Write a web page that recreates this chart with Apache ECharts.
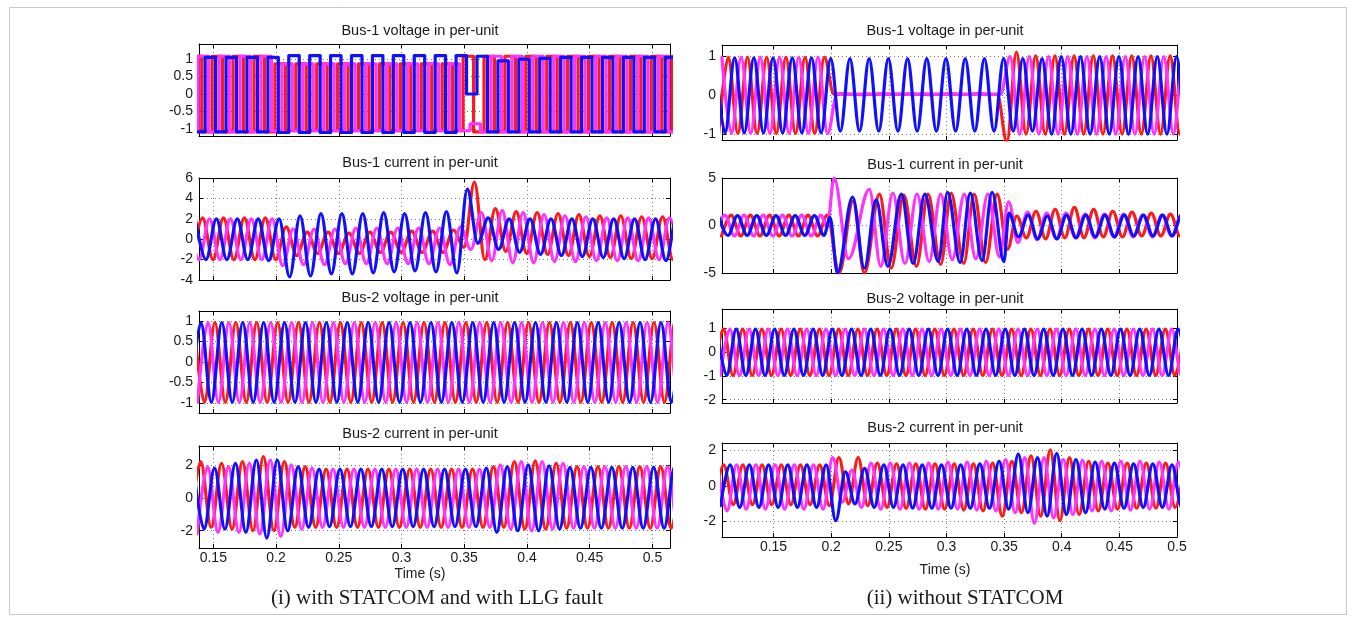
<!DOCTYPE html>
<html><head><meta charset="utf-8">
<script src="https://cdn.jsdelivr.net/npm/echarts@6/dist/echarts.min.js"></script>
<style>html,body{margin:0;padding:0;background:#fff}#c{width:1356px;height:621px}</style>
</head><body><div id="c"></div><script>
// ---------- data (extrema of each phase; 60 Hz -> half cycle H) ----------
const H = 1 / 120;
const xTickVals = [0.15, 0.2, 0.25, 0.3, 0.35, 0.4, 0.45, 0.5];
const titles = ['Bus-1 voltage in per-unit', 'Bus-1 current in per-unit', 'Bus-2 voltage in per-unit', 'Bus-2 current in per-unit'];
const captions = ['(i) with STATCOM and with LLG fault', '(ii) without STATCOM'];
const xName = 'Time (s)';

// ---- (i) with STATCOM ----
const L1_red = [{t0: 0.1366, dt: H, v: [1.08,-1.08,1.08,-1.08,1.08,-1.08,1.08,-1.08,
  0.86,-1.05,0.86,-1.05,0.86,-1.05,0.86,-1.05,0.86,-1.05,0.86,-1.05,0.86,-1.05,0.86,-1.05,0.86,-1.05,
  1.08,-1.08,1.08,-1.08,1.08,-1.08,1.08,-1.08,1.08,-1.08,1.08,-1.08,1.08,-1.08,1.08,-1.08,1.08,-1.08,1.08,-1.08,1.08,-1.08]}];
const L1_mag = [{t0: 0.1338, dt: H, v: [-1.08,1.08,-1.08,1.08,-1.08,1.08,-1.08,1.08,
  -1.05,0.86,-1.05,0.86,-1.05,0.86,-1.05,0.86,-1.05,0.86,-1.05,0.86,-1.05,0.86,-1.05,0.86,-1.05,0.86,
  -1.05,-0.85,-1.08,1.08,
  -1.08,1.08,-1.08,1.08,-1.08,1.08,-1.08,1.08,-1.08,1.08,-1.08,1.08,-1.08,1.08,-1.08,1.08,-1.08,1.08]}];
const L1_blue = [{t0: 0.1310, dt: H, v: [1.05,-1.08,1.05,-1.08,1.05,-1.08,1.05,-1.08,1.05,-1.1,
  1.1,-1.1,1.1,-1.1,1.1,-1.1,1.1,-1.1,1.1,-1.1,1.1,-1.1,1.1,-1.1,1.1,-1.1,1.1,
  0.0,1.08,
  -1.08,0.95,-1.08,1.0,-1.08,1.02,-1.08,1.05,-1.08,1.05,-1.08,1.05,-1.08,1.05,-1.08,1.05,-1.08,1.05,-1.08]}];

const L2_red = [{t0: 0.1331, dt: H, v: [-2.0,2.1,-2.0,2.1,-2.0,2.1,-2.0,2.1,-2.0,
  1.2,-1.6,0.7,-1.4,0.7,-1.4,0.6,-1.4,0.7,-1.3,0.7,-1.3,0.8,-1.3,0.8,-1.3,0.9,-0.8,
  5.6,-2.0,3.0,-1.2,2.7,-1.4,2.6,-1.5,2.5,-1.6,2.4,-1.7,2.3,-1.8,2.3,-1.9,2.2,-1.9,2.2,-2.0,2.2]}];
const L2_mag = [{t0: 0.1303, dt: H, v: [2.0,-2.0,2.0,-2.0,2.0,-2.0,2.0,-2.0,2.0,
  -2.6,1.0,-2.5,1.0,-2.5,1.0,-2.4,1.1,-2.4,1.1,-2.4,1.1,-2.4,1.1,-2.4,1.1,-2.5,1.2,
  -1.0,2.6,-2.1,2.8,-2.3,2.6,-2.3,2.4,-2.2,2.3,-2.2,2.2,-2.1,2.1,-2.1,2.1,-2.1,2.1,-2.0,2.1,-2.0]}];
const L2_blue = [{t0: 0.1358, dt: H, v: [1.9,-2.0,2.0,-2.0,2.0,-2.0,2.0,-2.1,2.0,
  -3.7,2.3,-3.6,2.5,-3.4,2.5,-3.4,2.5,-3.3,2.6,-3.2,2.5,-3.1,2.6,-3.2,2.7,-3.3,
  4.9,-0.4,2.1,-1.0,2.0,-1.3,2.0,-1.5,2.0,-1.6,2.0,-1.7,2.0,-1.8,2.0,-1.9,2.0,-2.0,2.0,-2.1,2.0,-2.0]}];

const L3_red = [{t0: 0.1346, dt: H, v: [0.96,-0.98,0.96,-0.98,0.96,-0.98,0.96,-0.98,0.96,-0.98,0.96,-0.98,
  0.96,-0.98,0.96,-0.98,0.96,-0.98,0.96,-0.98,0.96,-0.98,0.96,-0.98,0.96,-0.98,0.96,-0.98,0.96,-0.98,
  0.96,-0.98,0.96,-0.98,0.96,-0.98,0.96,-0.98,0.96,-0.98,0.96,-0.98,0.96,-0.98,0.96,-0.98,0.96,-0.98]}];
const L3_mag = [{t0: 0.1374, dt: H, v: [-0.98,0.96,-0.98,0.96,-0.98,0.96,-0.98,0.96,-0.98,0.96,-0.98,0.96,
  -0.98,0.96,-0.98,0.96,-0.98,0.96,-0.98,0.96,-0.98,0.96,-0.98,0.96,-0.98,0.96,-0.98,0.96,-0.98,0.96,
  -0.98,0.96,-0.98,0.96,-0.98,0.96,-0.98,0.96,-0.98,0.96,-0.98,0.96,-0.98,0.96,-0.98,0.96,-0.98,0.96]}];
const L3_blue = [{t0: 0.1318, dt: H, v: [-0.98,0.96,-0.98,0.96,-0.98,0.96,-0.98,0.96,-0.98,0.96,-0.98,0.96,
  -0.98,0.96,-0.98,0.96,-0.98,0.96,-0.98,0.96,-0.98,0.96,-0.98,0.96,-0.98,0.96,-0.98,0.96,-0.98,0.96,
  -0.98,0.96,-0.98,0.96,-0.98,0.96,-0.98,0.96,-0.98,0.96,-0.98,0.96,-0.98,0.96,-0.98,0.96,-0.98,0.96]}];

const L4_red = [{t0: 0.1316, dt: H, v: [-1.8,2.2,-1.8,2.1,-1.9,2.2,-2.0,2.5,-2.0,2.2,-1.8,1.9,
  -1.8,1.75,-1.8,1.75,-1.8,1.75,-1.8,1.75,-1.8,1.75,-1.8,1.75,-1.8,1.75,-1.8,1.75,
  -1.8,1.9,-1.8,2.2,-1.9,2.25,-1.9,2.1,
  -1.85,1.9,-1.85,1.9,-1.85,1.9,-1.85,1.9,-1.85,1.9,-1.85,1.9]}];
const L4_mag = [{t0: 0.1371, dt: H, v: [-2.2,1.9,-2.1,1.9,-2.1,2.1,-2.2,2.3,-2.35,2.0,-1.9,1.8,
  -1.8,1.75,-1.8,1.75,-1.8,1.75,-1.8,1.75,-1.8,1.75,-1.8,1.75,-1.8,1.75,-1.8,1.75,
  -1.8,2.0,-1.9,2.2,-2.0,2.2,-1.9,2.1,
  -1.85,1.9,-1.85,1.9,-1.85,1.9,-1.85,1.9,-1.85,1.9,-1.85,1.9]}];
const L4_blue = [{t0: 0.1343, dt: H, v: [1.8,-1.9,1.8,-1.9,2.1,-2.1,2.3,-2.45,2.3,-2.0,1.9,-1.8,
  1.75,-1.75,1.75,-1.75,1.75,-1.75,1.75,-1.75,1.75,-1.75,1.75,-1.75,1.75,-1.75,1.75,-1.75,
  1.8,-2.1,1.9,-2.0,2.0,-2.0,1.95,-1.9,
  1.85,-1.85,1.85,-1.85,1.85,-1.85,1.85,-1.85,1.85,-1.85,1.85,-1.85]}];

// ---- (ii) without STATCOM ----
const R1_red = [{t0: 0.1024, dt: H, v: [-0.98,0.98,-0.98,0.98,-0.98,0.98,-0.98,0.98,-0.98,0.98,-0.98,0.98,
  0.03,0.04,0.03,0.02,0.03,0.04,0.03,0.03,0.04,0.03,0.02,0.03,0.04,0.03,0.03,0.04,0.03,0.03,
  -1.2,1.12,
  -1.0,1.02,-1.0,1.02,-1.0,1.02,-1.0,1.02,-1.0,1.02,-1.0,1.02,-1.0,1.02,-1.0,1.02,-1.0,1.02]}];
const R1_mag = [{t0: 0.1052, dt: H, v: [0.98,-0.98,0.98,-0.98,0.98,-0.98,0.98,-0.98,0.98,-0.98,0.98,-0.98,
  0.04,0.03,0.03,0.04,0.03,0.03,0.04,0.03,0.03,0.04,0.03,0.03,0.04,0.03,0.03,0.04,0.03,0.03,
  1.0,
  -1.0,1.0,-1.0,1.0,-1.0,1.0,-1.0,1.0,-1.0,1.0,-1.0,1.0,-1.0,1.0,-1.0,1.0,-1.0,1.0,-1.0]}];
const R1_blue = [{t0: 0.0996, dt: H, v: [0.97,-0.97,0.97,-0.97,0.97,-0.97,0.97,-0.97,0.97,-0.97,0.97,-0.97,
  0.95,-0.92,0.95,-0.92,0.95,-0.92,0.95,-0.92,0.95,-0.92,0.95,-0.92,0.95,-0.92,0.95,-0.92,0.95,-0.92,0.95,-0.92,0.95,-0.92,0.95,
  -1.0,1.0,-1.0,1.0,-1.0,1.0,-1.0,1.0,-1.0,1.0,-1.0,1.0,-1.0,1.0,-1.0,1.0,-1.0,1.0,-1.0]}];

const R2_red = [
  {t0: 0.1049, dt: H, v: [-1.1,1.1,-1.1,1.1,-1.1,1.1,-1.1,1.1,-1.1,1.1,-1.1,1.1]},
  {pts: [[0.2069,-5.0],[0.2190,2.6],[0.2288,-5.0],[0.2419,3.3],[0.2520,-4.5],[0.2630,3.2],[0.2740,-4.3],[0.2840,3.3],
         [0.2950,-4.1],[0.3040,3.4],[0.3150,-4.0],[0.3240,3.3],[0.3340,-3.9],[0.3440,3.3],[0.3530,-2.5]]},
  {t0: 0.3610, dt: H, v: [1.0,-1.3,1.5,-1.4,1.7,-1.3,1.9,-1.3,1.7,-1.2,1.5,-1.2,1.4,-1.1,1.3,-1.1,1.2,-1.1,1.2,-1.1]}];
const R2_mag = [
  {t0: 0.0994, dt: H, v: [-1.1,1.1,-1.1,1.1,-1.1,1.1,-1.1,1.1,-1.1,1.1,-1.1,1.1]},
  {pts: [[0.1965,-0.2],[0.2025,5.0],[0.2150,-3.5],[0.2331,3.8],[0.2430,-4.3],[0.2535,3.4],[0.2640,-4.0],[0.2745,3.3],
         [0.2850,-3.8],[0.2950,3.3],[0.3050,-3.6],[0.3155,3.3],[0.3255,-3.5],[0.3360,3.3],[0.3460,-3.3],[0.3540,2.5]]},
  {t0: 0.3620, dt: H, v: [-1.8,1.4,-1.5,1.3,-1.4,1.3,-1.3,1.2,-1.3,1.2,-1.2,1.2,-1.2,1.1,-1.2,1.1,-1.1,1.1,-1.1,1.1]}];
const R2_blue = [
  {t0: 0.1021, dt: H, v: [1.05,-1.05,1.05,-1.05,1.05,-1.05,1.05,-1.05,1.05,-1.05,1.05,-1.05]},
  {pts: [[0.1990,0.85],[0.2054,-5.0],[0.2186,3.0],[0.2288,-4.5],[0.2390,2.7],[0.2492,-4.3],[0.2609,3.3],[0.2711,-4.0],
         [0.2813,3.3],[0.2929,-3.8],[0.3010,3.5],[0.3119,-3.9],[0.3207,3.4],[0.3309,-3.7],[0.3396,3.5],[0.3498,-3.8],[0.3542,1.3]]},
  {t0: 0.3625, dt: H, v: [-1.2,1.1,-1.4,1.0,-1.4,1.1,-1.3,1.1,-1.2,1.1,-1.2,1.1,-1.1,1.1,-1.1,1.1,-1.1,1.1,-1.1,1.0]}];

const R3_red = [{t0: 0.0982, dt: H, v: [-0.98,0.96,-0.98,0.96,-0.98,0.96,-0.98,0.96,-0.98,0.96,-0.98,0.96,-0.98,0.96,
  -0.98,0.96,-0.98,0.96,-0.98,0.96,-0.98,0.96,-0.98,0.96,-0.98,0.96,-0.98,0.96,-0.98,0.96,-0.98,0.96,
  -0.98,0.96,-0.98,0.96,-0.98,0.96,-0.98,0.96,-0.98,0.96,-0.98,0.96,-0.98,0.96,-0.98,0.96,-0.98,0.96]}];
const R3_mag = [{t0: 0.1038, dt: H, v: [-0.98,0.96,-0.98,0.96,-0.98,0.96,-0.98,0.96,-0.98,0.96,-0.98,0.96,-0.98,0.96,
  -0.98,0.96,-0.98,0.96,-0.98,0.96,-0.98,0.96,-0.98,0.96,-0.98,0.96,-0.98,0.96,-0.98,0.96,-0.98,0.96,
  -0.98,0.96,-0.98,0.96,-0.98,0.96,-0.98,0.96,-0.98,0.96,-0.98,0.96,-0.98,0.96,-0.98,0.96,-0.98,0.96]}];
const R3_blue = [{t0: 0.1010, dt: H, v: [0.96,-0.98,0.96,-0.98,0.96,-0.98,0.96,-0.98,0.96,-0.98,0.96,-0.98,0.96,-0.98,
  0.96,-0.98,0.96,-0.98,0.96,-0.98,0.96,-0.98,0.96,-0.98,0.96,-0.98,0.96,-0.98,0.96,-0.98,0.96,-0.98,
  0.96,-0.98,0.96,-0.98,0.96,-0.98,0.96,-0.98,0.96,-0.98,0.96,-0.98,0.96,-0.98,0.96,-0.98,0.96,-0.98]}];

const R4_red = [{t0: 0.0984, dt: H, v: [-1.05,1.2,-1.05,1.2,-1.05,1.2,-1.05,1.2,-1.05,1.2,-1.05,1.2,
  -1.1,1.6,-1.0,1.6,-1.1,1.3,-1.2,1.25,-1.25,1.25,-1.3,1.25,-1.3,1.25,-1.35,1.25,-1.4,1.3,
  -1.7,1.4,-1.5,1.7,-1.7,2.05,-1.95,1.6,-1.6,1.4,-1.4,1.3,
  -1.3,1.3,-1.25,1.3,-1.25,1.3,-1.2,1.3]}];
const R4_mag = [{t0: 0.1013, dt: H, v: [1.2,-1.4,1.2,-1.3,1.2,-1.3,1.2,-1.3,1.2,-1.3,1.2,-1.3,
  1.6,-0.9,0.9,-1.2,1.3,-1.3,1.3,-1.3,1.3,-1.3,1.3,-1.3,1.35,-1.3,1.35,-1.35,1.4,-1.4,
  1.5,-1.5,1.6,-2.1,1.6,-1.8,1.5,-1.6,1.45,-1.4,1.4,-1.4,
  1.4,-1.35,1.4,-1.3,1.35,-1.3,1.35,-1.3]}];
const R4_blue = [{t0: 0.1040, dt: H, v: [-1.1,1.2,-1.2,1.2,-1.2,1.2,-1.2,1.2,-1.2,1.2,-1.2,1.2,
  -1.95,0.8,-1.0,1.0,-1.2,1.2,-1.2,1.2,-1.25,1.2,-1.25,1.2,-1.25,1.2,-1.25,1.25,-1.25,1.4,
  -1.3,1.8,-1.5,1.6,-1.7,1.85,-1.6,1.5,-1.5,1.35,-1.3,1.3,
  -1.25,1.25,-1.2,1.25,-1.2,1.2,-1.2,1.2]}];

// ---------- layout & style ----------
const COLORS = ['#ff1a1a', '#ff33ff', '#1010ff'];
const FONT = "'Liberation Sans', Arial, sans-serif";
const panels = [
  {box: [199, 44, 471, 92],  x: [0.1386, 0.514], y: [-1.2, 1.43],  yt: [-1,-0.5,0,0.5,1], title: 0, ty: 31, tx: 420, s: [L1_red, L1_mag, L1_blue], step: true},
  {box: [199, 178, 471, 102], x: [0.1386, 0.514], y: [-4, 6],       yt: [-4,-2,0,2,4,6],    title: 1, ty: 163, tx: 420, s: [L2_red, L2_mag, L2_blue]},
  {box: [199, 311, 471, 102], x: [0.1386, 0.514], y: [-1.24, 1.24], yt: [-1,-0.5,0,0.5,1], title: 2, ty: 298, tx: 420, s: [L3_red, L3_mag, L3_blue]},
  {box: [199, 446, 471, 102], x: [0.1386, 0.514], y: [-3.05, 3.15], yt: [-2,0,2],          title: 3, ty: 434, tx: 420, s: [L4_red, L4_mag, L4_blue], xl: true},
  {box: [722, 45, 455, 95],  x: [0.1053, 0.5],   y: [-1.15, 1.3],  yt: [-1,0,1],           title: 0, ty: 31, tx: 945, s: [R1_red, R1_mag, R1_blue]},
  {box: [722, 178, 455, 95], x: [0.1053, 0.5],   y: [-5, 5],       yt: [-5,0,5],           title: 1, ty: 165, tx: 945, s: [R2_red, R2_mag, R2_blue]},
  {box: [722, 309, 455, 94], x: [0.1053, 0.5],   y: [-2.14, 1.8],  yt: [-2,-1,0,1],        title: 2, ty: 299, tx: 945, s: [R3_red, R3_mag, R3_blue]},
  {box: [722, 443, 455, 94], x: [0.1053, 0.5],   y: [-2.87, 2.43], yt: [-2,0,2],           title: 3, ty: 428, tx: 945, s: [R4_red, R4_mag, R4_blue], xl: true}
];

function build(parts) {
  const out = [];
  parts.forEach(p => {
    if (p.pts) p.pts.forEach(q => out.push(q));
    else p.v.forEach((v, i) => out.push([p.t0 + i * p.dt, v]));
  });
  return out;
}

const option = {animation: false, backgroundColor: '#fff', grid: [], xAxis: [], yAxis: [], series: [], graphic: []};
const axLine = {show: true, onZero: false, lineStyle: {color: '#000', width: 1}};
const tick = vals => ({show: true, inside: true, length: 4, customValues: vals, lineStyle: {color: '#000', width: 1}});
const grid = {show: true, lineStyle: {color: '#777', type: [1, 3], width: 1}};

panels.forEach((p, i) => {
  option.grid.push({left: p.box[0], top: p.box[1], width: p.box[2], height: p.box[3], show: false});
  option.xAxis.push({type: 'value', gridIndex: i, min: p.x[0], max: p.x[1], position: 'bottom', axisLine: axLine, axisTick: tick(xTickVals),
    axisLabel: {show: !!p.xl, customValues: xTickVals, color: '#1a1a1a', fontSize: 14, fontFamily: FONT, margin: 3},
    splitLine: grid});
  option.xAxis.push({type: 'value', gridIndex: i, min: p.x[0], max: p.x[1], position: 'top', axisLine: axLine, axisTick: tick(xTickVals),
    axisLabel: {show: false}, splitLine: {show: false}});
  option.yAxis.push({type: 'value', gridIndex: i, min: p.y[0], max: p.y[1], position: 'left', axisLine: axLine, axisTick: tick(p.yt),
    axisLabel: {customValues: p.yt, color: '#1a1a1a', fontSize: 14, fontFamily: FONT, margin: 6},
    splitLine: grid});
  option.yAxis.push({type: 'value', gridIndex: i, min: p.y[0], max: p.y[1], position: 'right', axisLine: axLine, axisTick: tick(p.yt),
    axisLabel: {show: false}, splitLine: {show: false}});
  p.s.forEach((parts, k) => {
    const ser = {type: 'line', xAxisIndex: 2 * i, yAxisIndex: 2 * i, data: build(parts), symbol: 'none', showSymbol: false,
      clip: true, silent: true, lineStyle: {color: COLORS[k], width: 3.2, cap: 'round', join: 'round'}, itemStyle: {color: COLORS[k]}};
    if (p.step) ser.step = 'middle'; else { ser.smooth = 0.36; ser.smoothMonotone = 'x'; }
    option.series.push(ser);
  });
  option.graphic.push({type: 'text', x: p.tx, y: p.ty, style: {text: titles[p.title], font: '14.5px ' + FONT, fill: '#1a1a1a', textAlign: 'center', textVerticalAlign: 'middle'}});
});
option.graphic.push({type: 'text', x: 420, y: 574, style: {text: xName, font: '14px ' + FONT, fill: '#1a1a1a', textAlign: 'center', textVerticalAlign: 'middle'}});
option.graphic.push({type: 'text', x: 945, y: 570, style: {text: xName, font: '14px ' + FONT, fill: '#1a1a1a', textAlign: 'center', textVerticalAlign: 'middle'}});
option.graphic.push({type: 'text', x: 437, y: 598, style: {text: captions[0], font: "21px 'Liberation Serif', 'Times New Roman', serif", fill: '#1a1a1a', textAlign: 'center', textVerticalAlign: 'middle'}});
option.graphic.push({type: 'text', x: 965, y: 598, style: {text: captions[1], font: "21px 'Liberation Serif', 'Times New Roman', serif", fill: '#1a1a1a', textAlign: 'center', textVerticalAlign: 'middle'}});
option.graphic.push({type: 'rect', shape: {x: 9.5, y: 7.5, width: 1337, height: 607}, style: {fill: 'none', stroke: '#c8c8c8', lineWidth: 1}, z: -10});

const chart = echarts.init(document.getElementById('c'), null, {renderer: 'canvas'});
chart.setOption(option);
</script></body></html>
